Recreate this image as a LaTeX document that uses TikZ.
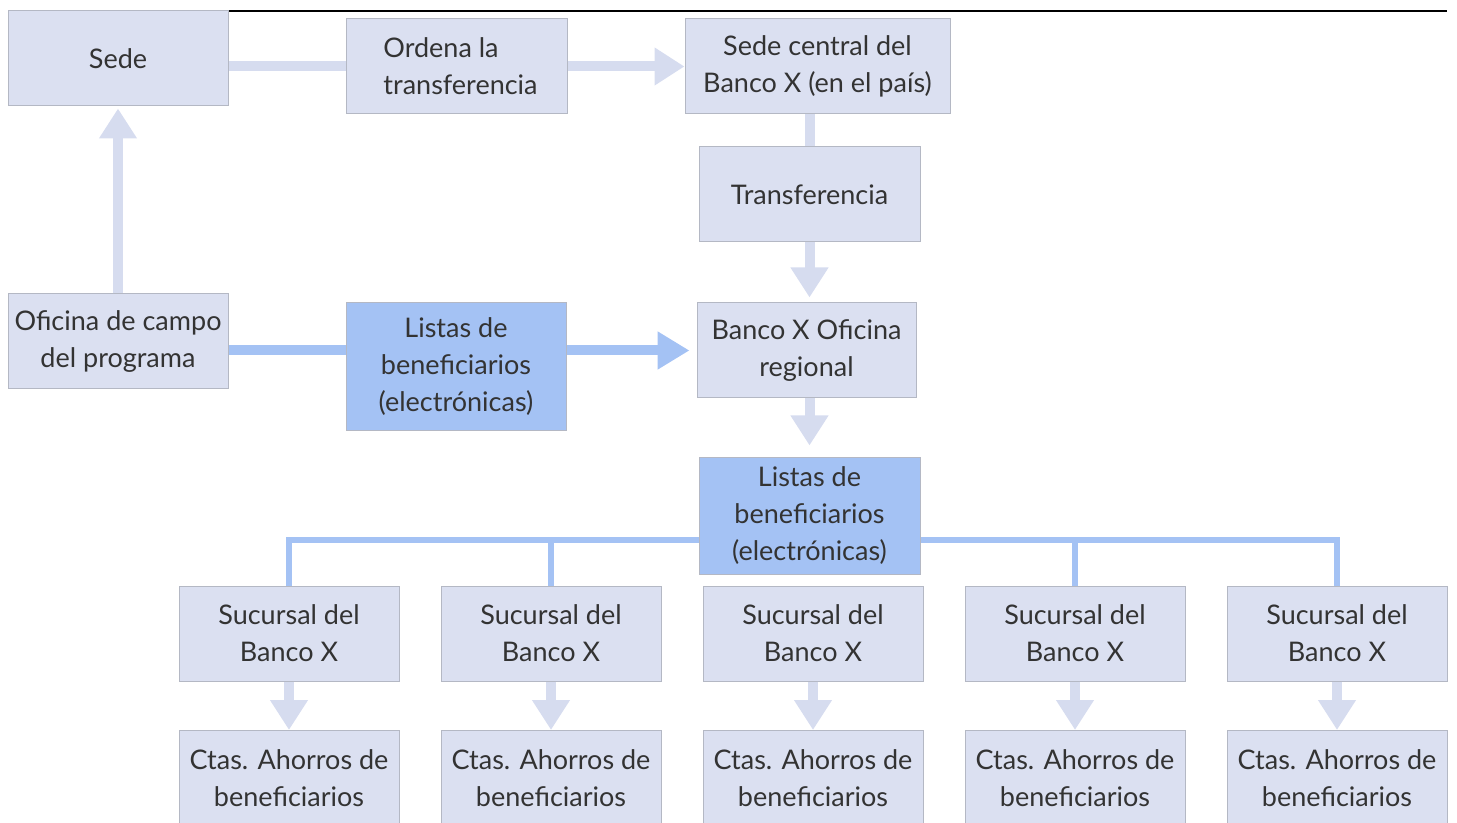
\documentclass[tikz,border=0pt]{standalone}
\usepackage{fontspec}
\setmainfont{Lato}
\usetikzlibrary{arrows.meta,calc}
\definecolor{boxfill}{HTML}{DBE0F1}
\definecolor{boxline}{HTML}{B4B8C4}
\definecolor{bluefill}{HTML}{A4C2F4}
\definecolor{arrowfill}{HTML}{D6DCEF}
\definecolor{txt}{HTML}{333333}
\tikzset{
  box/.style={draw=boxline, line width=0.5pt, fill=boxfill, text=txt, align=center,
    minimum width=110pt, minimum height=47.5pt, inner sep=1pt,
    font=\fontsize{13.5}{18.5}\selectfont},
  bluebox/.style={box, fill=bluefill},
  band/.style={draw=arrowfill, line width=5pt},
  bandarrow/.style={band, -{Triangle[width=18pt,length=15pt,fill=arrowfill]}},
  blueband/.style={draw=bluefill, line width=5pt},
  bluearrow/.style={blueband, -{Triangle[width=18pt,length=16pt,fill=bluefill]}},
  tree/.style={draw=bluefill, line width=3pt},
}
\begin{document}
\begin{tikzpicture}[x=0.5pt,y=-0.5pt]
\useasboundingbox (0,0) rectangle (1457,823);
\clip (0,0) rectangle (1457,823);
\draw[black, line width=0.6pt] (8,11) -- (1447,11);
% top row
\node[box] (sede) at (118,58.5) {\raisebox{-1pt}{Sede}};
\node[box, minimum width=110.5pt, align=left] (ordena) at (456.5,66.5) {\hspace*{4pt}Ordena la\\\hspace*{4pt}transferencia};
\node[box, minimum width=132.5pt] (sedec) at (817.5,66.5) {Sede central del\\Banco X (en el país)};
\node[box, minimum width=110.5pt] (transf) at (809.5,194.5) {Transferencia};
% middle row
\node[box] (oficina) at (118,341.5) {Oficina de campo\\del programa};
\node[bluebox, minimum height=64pt] (listas1) at (456,367) {Listas de\\beneficiarios\\(electrónicas)};
\node[box, minimum width=109.5pt] (banco) at (806.5,350.5) {Banco X Oficina\\regional};
\node[bluebox, minimum width=110.5pt, minimum height=58pt] (listas2) at (809.5,516) {Listas de\\beneficiarios\\(electrónicas)};
\coordinate (busY) at (0,540);
% bottom rows
\foreach \i/\x in {1/289,2/551,3/813,4/1075,5/1337}{
  \node[box] (suc\i) at (\x,633.5) {Sucursal del\\Banco X};
  \node[box] (ctas\i) at (\x,778) {Ctas. Ahorros de\\beneficiarios};
}
% connectors
\draw[band] (ordena.west) -- (ordena.west -| sede.east);
\draw[bandarrow] (ordena.east) -- (sedec.west);
\draw[bandarrow] (oficina.north) -- ([yshift=-1pt]sede.south);
\draw[blueband] (oficina.east |- banco.west) -- (listas1.west |- banco.west);
\draw[bluearrow, shorten >=3.5pt] (listas1.east |- banco.west) -- (banco.west);
\draw[band] (transf.north |- sedec.south) -- (transf.north);
\draw[bandarrow, shorten >=2.5pt] (transf.south) -- (transf.south |- banco.north);
\draw[bandarrow, shorten >=6pt] (transf.south |- banco.south) -- (transf.south |- listas2.north);
\foreach \i in {1,2}{
  \draw[tree] (suc\i.north) |- (listas2.west |- busY);
}
\foreach \i in {4,5}{
  \draw[tree] (suc\i.north) |- (listas2.east |- busY);
}
\foreach \i in {1,...,5}{
  \draw[bandarrow] (suc\i.south) -- (ctas\i.north);
}
\end{tikzpicture}
\end{document}
